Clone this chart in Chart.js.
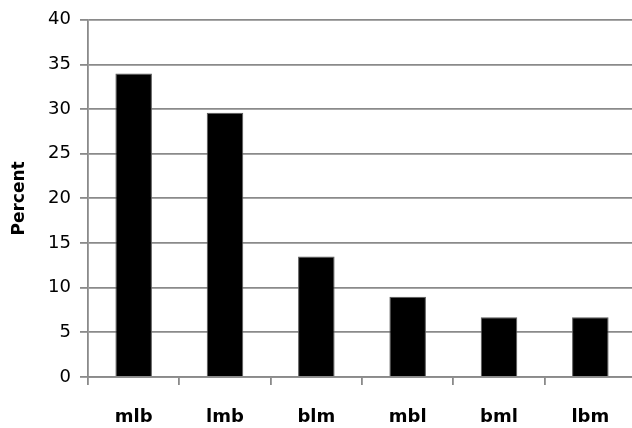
<!DOCTYPE html>
<html>
<head>
<meta charset="utf-8">
<script src="https://cdn.jsdelivr.net/npm/chart.js@4/dist/chart.umd.min.js"></script>
<style>
html,body{margin:0;padding:0;overflow:hidden;background:#fff;}
#wrap{width:640px;height:428px;}
</style>
</head>
<body>
<div id="wrap"><canvas id="c" width="640" height="428"></canvas></div>
<script>
const categories = ["mlb", "lmb", "blm", "mbl", "bml", "lbm"];
const percentValues = [34.0, 29.6, 13.5, 9.0, 6.7, 6.7];
const yTicks = [0, 5, 10, 15, 20, 25, 30, 35, 40];
const yTitle = "Percent";

const FONT = "'DejaVu Sans', sans-serif";
const GRID = "#8a8a8a";

new Chart(document.getElementById("c"), {
  type: "bar",
  data: {
    labels: categories,
    datasets: [{
      data: percentValues,
      backgroundColor: "#000000",
      borderColor: "#5a5a5a",
      borderWidth: 1,
      categoryPercentage: 1.0,
      barPercentage: 0.4
    }]
  },
  options: {
    responsive: false,
    animation: false,
    devicePixelRatio: 1,
    layout: { padding: { top: 18, right: 4, bottom: 0, left: 0 } },
    plugins: { legend: { display: false }, tooltip: { enabled: false } },
    scales: {
      x: {
        offset: true,
        border: { display: true, color: GRID, width: 1.8 },
        grid: { display: true, drawOnChartArea: false, drawTicks: true, tickLength: 8, color: GRID, lineWidth: 1.8, offset: true },
        ticks: { color: "#000", font: { family: FONT, size: 18, weight: "bold" }, padding: 22 },
        afterFit: s => { s.height = 51; }
      },
      y: {
        min: 0, max: 40,
        afterBuildTicks: s => { s.ticks = yTicks.map(v => ({ value: v })); },
        border: { display: true, color: GRID, width: 1.8 },
        grid: { display: true, drawTicks: true, tickLength: 8, color: GRID, lineWidth: 1.8 },
        ticks: { color: "#000", font: { family: FONT, size: 18 }, padding: 9 },
        title: { display: true, text: yTitle, color: "#000", font: { family: FONT, size: 17, weight: "bold" }, padding: { top: 9, bottom: 0 } },
        afterFit: s => { s.width = 88; }
      }
    }
  }
});
</script>
</body>
</html>
